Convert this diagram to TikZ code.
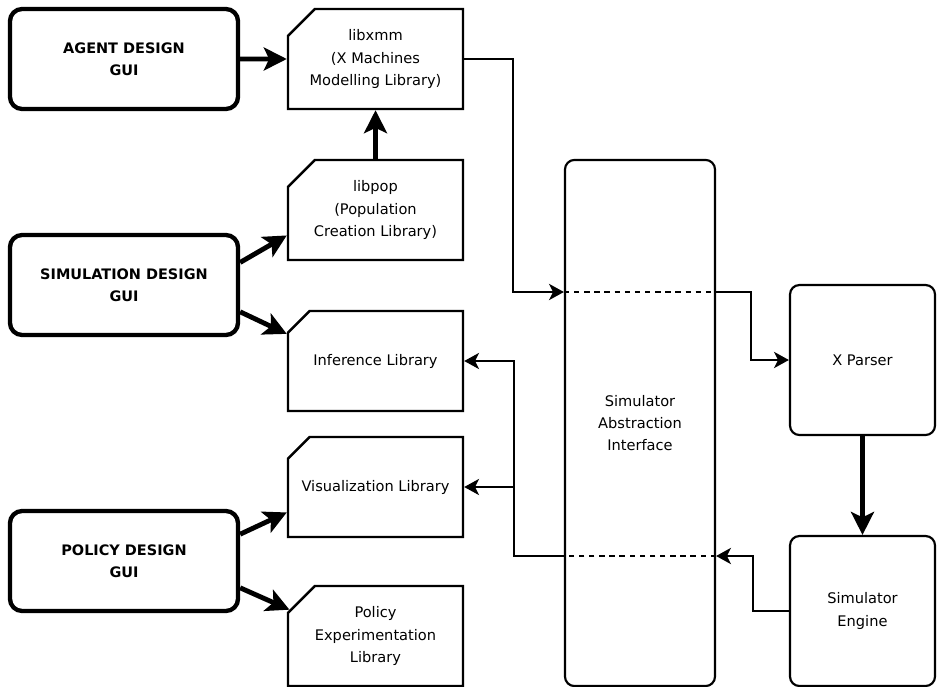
\documentclass[tikz,border=0pt]{standalone}
\usepackage{fontspec}
\setmainfont{DejaVu Sans}
\usetikzlibrary{arrows.meta,calc,shapes.misc}

\tikzset{
  gui/.style={draw, line width=3.2pt, rounded corners=9pt, align=center,
    minimum width=5.93cm, minimum height=2.6cm, font=\fontsize{10.7}{16.2}\selectfont\bfseries},
  lib/.style={draw, line width=1.8pt, chamfered rectangle,
    chamfered rectangle corners=north west,
    chamfered rectangle xsep=12.5pt, chamfered rectangle ysep=7.4pt,
    inner xsep=1pt, align=center, minimum width=4.55cm, minimum height=2.6cm},
  block/.style={draw, line width=1.6pt, rounded corners=7pt, align=center},
  link/.style={line width=1.5pt, -{Stealth[length=11pt,width=12pt,inset=3pt]}},
  fatlink/.style={line width=3.6pt, -{Stealth[length=17pt,width=17pt,inset=4pt]}},
  dashlink/.style={line width=1.5pt, dash pattern=on 4pt off 3.5pt}
}

\begin{document}
\begin{tikzpicture}[x=0.026cm, y=-0.026cm, font=\fontsize{10.8}{16.6}\selectfont]
	%%%%% START %%%%%
	\path[fill=white] (0,0) rectangle (937,687);
	\useasboundingbox (0,0) rectangle (937,687);
	
	% design tools
	\node[gui] (agent) at (124,59) {AGENT DESIGN\\GUI};
	\node[gui] (simgui) at (124,285) {SIMULATION DESIGN\\GUI};
	\node[gui] (polgui) at (124,561) {POLICY DESIGN\\GUI};
	
	% libraries
	\node[lib] (xmm) at (375.5,59) {libxmm\\(X Machines\\Modelling Library)};
	\node[lib] (pop) at (375.5,210) {libpop\\(Population\\Creation Library)};
	\node[lib] (inf) at (375.5,361) {Inference Library};
	\node[lib] (vis) at (375.5,487) {Visualization Library};
	\node[lib] (pex) at (375.5,636) {Policy\\Experimentation\\Library};
	
	% simulator side
	\node[block, minimum width=3.9cm, minimum height=13.68cm] (sai) at (640,423) {Simulator\\Abstraction\\Interface};
	\node[block, minimum width=3.77cm, minimum height=3.9cm] (xp) at (862.5,360) {X Parser};
	\node[block, minimum width=3.77cm, minimum height=3.9cm] (eng) at (862.5,611) {Simulator\\Engine};
	
	\coordinate (upL) at (sai.west |- 0,292);
	\coordinate (upR) at (sai.east |- 0,292);
	\coordinate (dnL) at (sai.west |- 0,556);
	\coordinate (dnR) at (sai.east |- 0,556);
	\coordinate (rail) at ($(inf.east)+(50,0)$);
	
	% thick arrows
	\draw[fatlink] (agent) -- (xmm);
	\draw[fatlink] (pop) -- (xmm);
	\draw[fatlink] (simgui.11) -- (pop.196);
	\draw[fatlink] (simgui.347) -- (inf.163);
	\draw[fatlink] (polgui.13) -- (vis.196);
	\draw[fatlink] (polgui.347) -- (pex.163);
	\draw[fatlink] (xp) -- (eng);
	
	% model going in
	\draw[link] (xmm.east) -| ($(upL)+(-51,0)$) -- (upL);
	\draw[dashlink] (upL) -- (upR);
	\draw[link] (upR) -| ($(xp.west)+(-38,0)$) -- (xp.west);
	
	% results coming back
	\draw[link] (eng.west) -| ($(dnR)+(37,0)$) -- (dnR);
	\draw[dashlink] (dnR) -- (dnL);
	\draw[link] (dnL) -| (rail) -- (inf.east);
	\draw[link] (rail |- vis.east) -- (vis.east);
	%%%%% END %%%%%
\end{tikzpicture}
\end{document}
